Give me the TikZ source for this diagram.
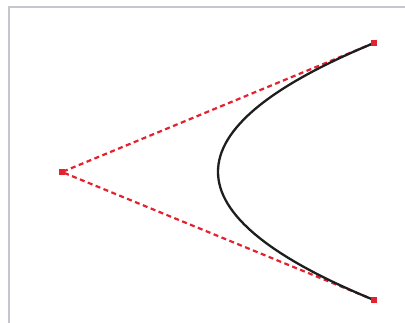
\documentclass[tikz,border=0pt]{standalone}
\usepackage{xcolor}
\usepackage{tikz}
\usetikzlibrary{calc}
\definecolor{frameGray}{HTML}{C4C8CC}
\definecolor{guideRed}{HTML}{E3212F}
\definecolor{curveInk}{HTML}{1E1E1E}

\begin{document}
\begin{tikzpicture}[
        x=1pt, y=-1pt,
        handle/.style={draw=none, fill=guideRed, minimum size=6.5pt, inner sep=0pt, rectangle},
        guide/.style={draw=guideRed, line width=2.2pt, dash pattern=on 5pt off 3.5pt},
        bezier/.style={draw=curveInk, line width=2.3pt}
    ]
        \useasboundingbox (0,0) rectangle (405,322);
        \clip (0,0) rectangle (405,322);

        % Frame
        \fill[white] (0,0) rectangle (405,322);
        \draw[frameGray, line width=2pt] (9,7) rectangle (430,340);

        % Points
        \coordinate (start) at (374,43);
        \coordinate (ctrl) at (62,172);
        \coordinate (end) at (374,300);

        % Control polygon
        \draw[guide] (start) -- (ctrl) -- (end);

        % Quadratic curve
        \draw[bezier] (start) .. controls ($(start)!2/3!(ctrl)$) and ($(end)!2/3!(ctrl)$) .. (end);

        % Handles
        \node[handle, at={(start)}] (startHandle) {};
        \node[handle, at={(ctrl)}] (ctrlHandle) {};
        \node[handle, at={(end)}] (endHandle) {};
    \end{tikzpicture}
\end{document}
